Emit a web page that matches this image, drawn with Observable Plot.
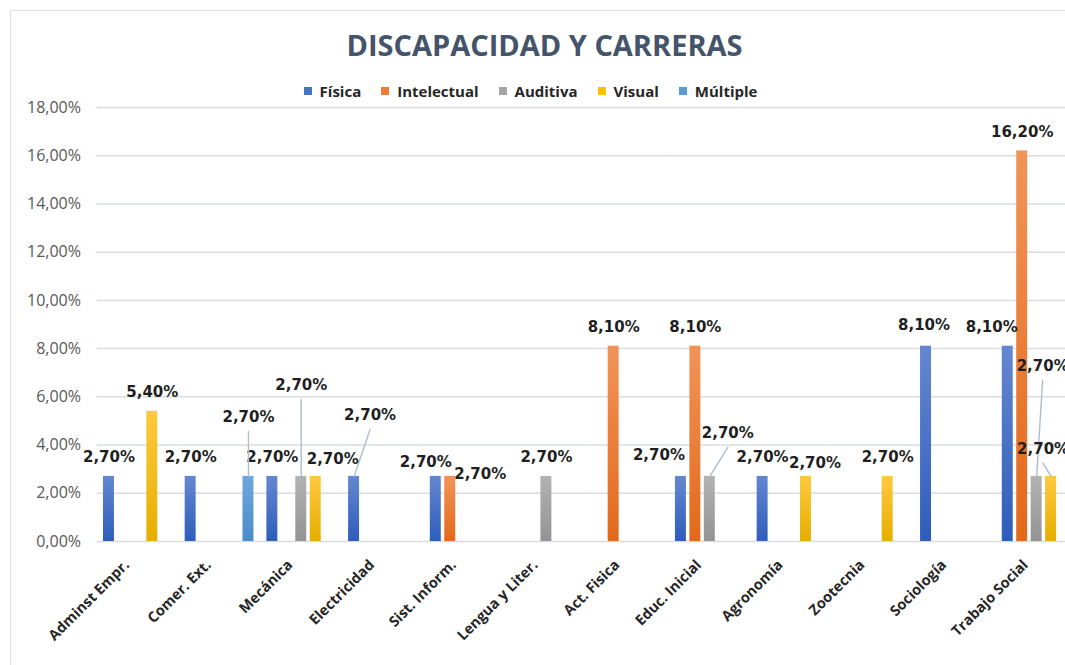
<!DOCTYPE html>
<html>
<head>
<meta charset="utf-8">
<script src="https://cdn.jsdelivr.net/npm/d3@7"></script>
<script src="https://cdn.jsdelivr.net/npm/@observablehq/plot@0.6"></script>
<style>
  html, body { margin: 0; padding: 0; overflow: hidden; background: #fff; }
  #wrap { position: relative; width: 1080px; height: 665px; overflow: hidden; font-family: "Open Sans", sans-serif; }
  #frame { position: absolute; left: 10px; top: 10px; width: 1200px; height: 800px; border: 1.5px solid #DCDFE4; box-sizing: border-box; pointer-events: none; }
  #title { position: relative; margin-left: 10px; width: 1069px; height: 82px; box-sizing: border-box; padding-top: 30px; text-align: center; font-size: 29px; line-height: 30px; font-weight: 700; color: #44546A; }
  #legend { position: relative; left: -14px; height: 18px; display: flex; justify-content: center; align-items: center; gap: 20px; font-size: 15px; font-weight: 700; color: #262626; margin-left: 10px; width: 1069px; }
  #legend .item { display: flex; align-items: center; }
  #legend .sw { width: 8px; height: 8px; margin-right: 8px; }
  #chart { position: relative; height: 565px; }
</style>
</head>
<body>
<div id="wrap">
  <div id="frame"></div>
  <div id="title">DISCAPACIDAD Y CARRERAS</div>
  <div id="legend"></div>
  <div id="chart"></div>
</div>
<script>
// ---- data ----
const categories = ["Adminst Empr.", "Comer. Ext.", "Mecánica", "Electricidad", "Sist. Inform.", "Lengua y Liter.", "Act. Fisica", "Educ. Inicial", "Agronomía", "Zootecnia", "Sociología", "Trabajo Social"];
const seriesNames = ["Física", "Intelectual", "Auditiva", "Visual", "Múltiple"];
const fisica      = [2.7, 2.7, 2.7, 2.7, 2.7, null, null, 2.7, 2.7, null, 8.1, 8.1];
const intelectual = [null, null, null, null, 2.7, null, 8.1, 8.1, null, null, null, 16.2];
const auditiva    = [null, null, 2.7, null, null, 2.7, null, 2.7, null, null, null, 2.7];
const visual      = [5.4, null, 2.7, null, null, null, null, null, 2.7, 2.7, null, 2.7];
const multiple    = [null, 2.7, null, null, null, null, null, null, null, null, null, null];
const yTicks = [0, 2, 4, 6, 8, 10, 12, 14, 16, 18];

// ---- styles ----
const seriesValues = [fisica, intelectual, auditiva, visual, multiple];
const flatColors = ["#4472C4", "#ED7D31", "#A5A5A5", "#FFC000", "#5B9BD5"];
const gradTop    = ["#6587D0", "#F19459", "#B3B3B3", "#FFC93F", "#6FA8DE"];
const gradBottom = ["#2E5DBA", "#E2691B", "#939393", "#E6AE00", "#4A8BC9"];

// manual label nudges (pixels) as in the original chart: [dx, dy, leaderLine]
const labelNudge = {
  "Comer. Ext.|Múltiple": [0, -40, true],
  "Mecánica|Auditiva": [0, -72, true],
  "Mecánica|Visual": [17, 2],
  "Electricidad|Física": [16, -42, true],
  "Sist. Inform.|Física": [-10, 5],
  "Sist. Inform.|Intelectual": [30, 17],
  "Educ. Inicial|Física": [-22, -2],
  "Educ. Inicial|Auditiva": [18, -24, true],
  "Agronomía|Visual": [9, 6],
  "Sociología|Física": [-2, -2],
  "Trabajo Social|Física": [-16, 0],
  "Trabajo Social|Auditiva": [6, -91, true],
  "Trabajo Social|Visual": [-8, -8, true]
};

const rows = [];
seriesNames.forEach((s, j) => {
  categories.forEach((c, i) => {
    const v = seriesValues[j][i];
    if (v != null) rows.push({cat: c, series: s, value: v});
  });
});

const fmt = v => v.toFixed(2).replace(".", ",") + "%";

// legend
const legend = document.getElementById("legend");
seriesNames.forEach((s, j) => {
  const it = document.createElement("div");
  it.className = "item";
  it.innerHTML = `<span class="sw" style="background:${flatColors[j]}"></span><span>${s}</span>`;
  legend.appendChild(it);
});

const marks = [
  Plot.gridY(yTicks, {stroke: "#D9DCE1", strokeOpacity: 1, strokeWidth: 1.5}),
  Plot.axisY(yTicks, {tickFormat: fmt, tickSize: 0, tickPadding: 16, fontSize: 16, color: "#595959", label: null}),
  Plot.axisFx({anchor: "bottom", tickRotate: -45, tickSize: 0, tickPadding: 21, fontSize: 14.5, fontWeight: "bold", color: "#262626", label: null, dx: -11})
];

seriesNames.forEach((s, j) => {
  marks.push(Plot.barY(rows.filter(r => r.series === s), {fx: "cat", x: "series", y: "value", fill: `url(#grad${j})`}));
});

rows.forEach(r => {
  const n = labelNudge[r.cat + "|" + r.series] || [0, 0, false];
  const dx = n[0], dy = -19 + n[1];
  if (n[2]) {
    const vx = dx, vy = dy + 14;
    const len = Math.hypot(vx, vy);
    const rot = Math.atan2(vx, -vy) * 180 / Math.PI;
    marks.push(Plot.vector([r], {
      fx: "cat", x: "series", y: "value", length: len, rotate: rot, anchor: "start",
      stroke: "#AFBDD1", strokeWidth: 1.4,
      shape: {draw(ctx, l) { ctx.moveTo(0, 0); ctx.lineTo(0, -l); }}
    }));
  }
  marks.push(Plot.text([r], {
    fx: "cat", x: "series", y: "value", text: d => fmt(d.value),
    dx, dy, fontSize: 15, fontWeight: "bold", fontFamily: "DejaVu Sans", fill: "#1F1F1F"
  }));
});

const chart = Plot.plot({
  width: 1080, height: 565,
  marginLeft: 96.5, marginRight: 3, marginTop: 7, marginBottom: 124,
  style: {overflow: "visible", background: "transparent", fontFamily: "Open Sans"},
  fx: {domain: categories, padding: 0, round: false, label: null},
  x: {domain: seriesNames, paddingInner: 0.241, paddingOuter: 0.448, round: false, axis: null},
  y: {domain: [0, 18], axis: null},
  marks
});

// gradient definitions for the bars
const svg = d3.select(chart.tagName.toLowerCase() === "svg" ? chart : chart.querySelector("svg"));
const defs = svg.insert("defs", ":first-child");
seriesNames.forEach((s, j) => {
  const g = defs.append("linearGradient").attr("id", `grad${j}`).attr("x1", 0).attr("y1", 0).attr("x2", 0).attr("y2", 1);
  g.append("stop").attr("offset", "0%").attr("stop-color", gradTop[j]);
  g.append("stop").attr("offset", "100%").attr("stop-color", gradBottom[j]);
});

document.getElementById("chart").appendChild(chart);
</script>
</body>
</html>
